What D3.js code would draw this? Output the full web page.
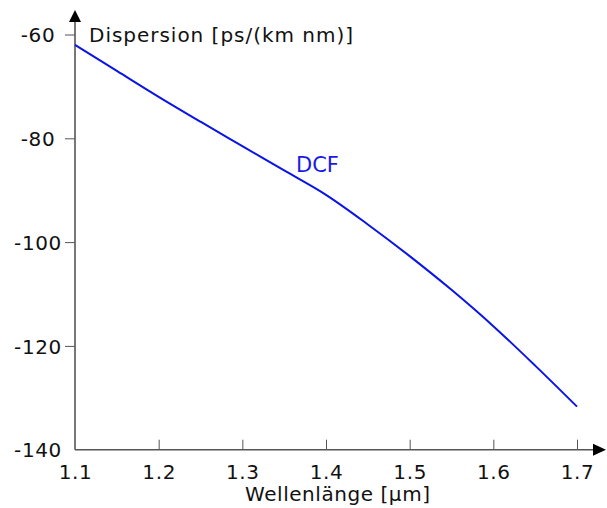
<!DOCTYPE html>
<html>
<head>
<meta charset="utf-8">
<script src="https://cdn.jsdelivr.net/npm/d3@7/dist/d3.min.js"></script>
<style>
  html, body { margin: 0; padding: 0; background: #fff; }
  svg { display: block; }
  text { font-family: "DejaVu Sans", Verdana, sans-serif; fill: #111; }
</style>
</head>
<body>
<svg id="chart" width="607" height="508"></svg>
<script>
// Wavelength in µm and dispersion of the DCF in ps/(km nm)
const wavelength = [1.1, 1.15, 1.2, 1.25, 1.3, 1.35, 1.4, 1.45, 1.5, 1.55, 1.6, 1.65, 1.7];
const dispersion = [-62.0, -67.0, -72.0, -76.8, -81.5, -86.2, -90.9, -96.6, -102.7, -109.2, -116.2, -123.8, -131.7];
const xTicks = [1.1, 1.2, 1.3, 1.4, 1.5, 1.6, 1.7];
const yTicks = [-60, -80, -100, -120, -140];
const xLabel = "Wellenlänge [µm]";
const yLabel = "Dispersion [ps/(km nm)]";
const seriesName = "DCF";

const svg = d3.select("#chart");
const x = d3.scaleLinear().domain([1.1, 1.7]).range([75, 577]);
const y = d3.scaleLinear().domain([-140, -60]).range([449.7, 34.5]);

const axisColor = "#555";
const fontSize = 20;

// x axis: ticks pointing up into the plot
const gx = svg.append("g").attr("transform", `translate(0,${y(-140)})`)
  .call(d3.axisTop(x).tickValues(xTicks).tickSize(10).tickSizeOuter(0).tickFormat(d3.format(".1f")));
gx.select(".domain").remove();
gx.selectAll(".tick line").attr("stroke", axisColor).attr("stroke-width", 1);
gx.selectAll(".tick").filter(d => d === 1.1).select("line").remove();
gx.selectAll(".tick text").attr("y", 29.5).attr("dy", 0)
  .attr("font-size", fontSize).attr("letter-spacing", 0.6)
  .attr("font-family", "DejaVu Sans").attr("fill", "#111");

// y axis: ticks pointing left
const gy = svg.append("g").attr("transform", `translate(${x(1.1)},0)`)
  .call(d3.axisLeft(y).tickValues(yTicks).tickSize(10).tickSizeOuter(0));
gy.select(".domain").remove();
gy.selectAll(".tick line").attr("stroke", axisColor).attr("stroke-width", 1);
gy.selectAll(".tick").filter(d => d === -140).select("line").remove();
gy.selectAll(".tick text").attr("x", -37).attr("text-anchor", "middle").attr("dy", "0.36em")
  .attr("font-size", fontSize).attr("letter-spacing", 0.6)
  .attr("font-family", "DejaVu Sans").attr("fill", "#111")
  .text(d => String(d));

// axis lines with arrow heads
const x0 = x(1.1), y0 = y(-140);
svg.append("line").attr("x1", x0).attr("y1", y0).attr("x2", 595).attr("y2", y0)
  .attr("stroke", axisColor).attr("stroke-width", 1.6);
svg.append("line").attr("x1", x0).attr("y1", y0).attr("x2", x0).attr("y2", 22)
  .attr("stroke", axisColor).attr("stroke-width", 1.6);
svg.append("path").attr("d", `M${x0},10 L${x0 - 6},22 L${x0 + 6},22 Z`).attr("fill", "#000");
svg.append("path").attr("d", `M606,${y0} L593,${y0 - 6} L593,${y0 + 6} Z`).attr("fill", "#000");

// axis titles
svg.append("text").attr("x", 89).attr("y", 42).attr("font-size", fontSize)
  .attr("textLength", 264).attr("lengthAdjust", "spacing").text(yLabel);
svg.append("text").attr("x", 245).attr("y", 501).attr("font-size", fontSize)
  .attr("textLength", 185).attr("lengthAdjust", "spacing").text(xLabel);

// curve
const pts = wavelength.map((w, i) => [w, dispersion[i]]);
svg.append("path").datum(pts)
  .attr("fill", "none").attr("stroke", "#0a14e6").attr("stroke-width", 2)
  .attr("d", d3.line().x(d => x(d[0])).y(d => y(d[1])).curve(d3.curveMonotoneX));

svg.append("text").attr("x", 296).attr("y", 172).attr("font-size", 21)
  .style("fill", "#1a1ae6").text(seriesName);
</script>
</body>
</html>
